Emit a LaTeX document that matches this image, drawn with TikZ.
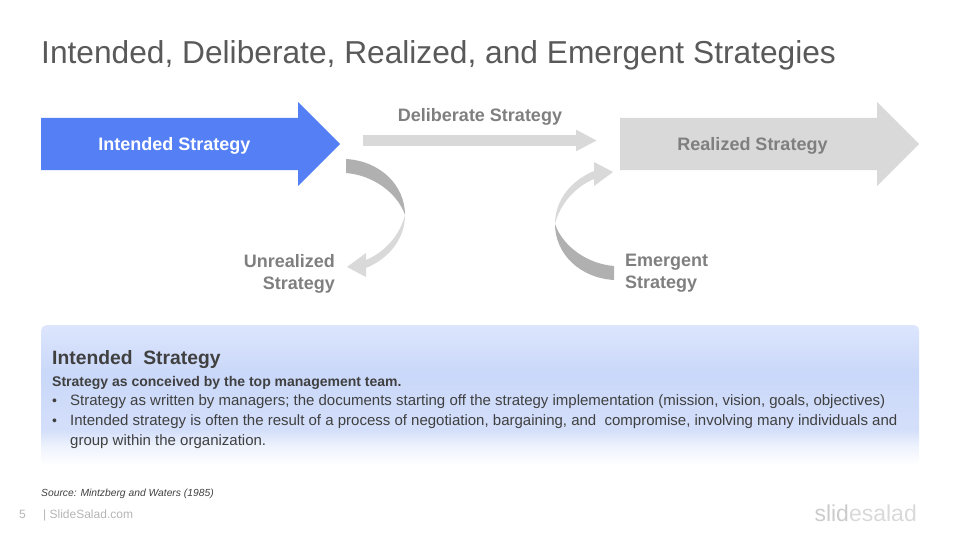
\documentclass[tikz,border=0pt]{standalone}
\usepackage{fontspec}
\setmainfont{Liberation Sans}
\usetikzlibrary{arrows.meta, shapes.arrows}

\definecolor{TitleGray}{HTML}{595959}
\definecolor{LabelGray}{HTML}{7F7F7F}
\definecolor{ArrowLight}{HTML}{D9D9D9}
\definecolor{ArrowDark}{HTML}{B0B0B0}
\definecolor{IntendedBlue}{HTML}{5580F5}
\definecolor{PanelText}{HTML}{404040}
\definecolor{FootGray}{HTML}{B5B5B5}

\pgfdeclareverticalshading{panelfade}{100bp}{
  rgb(0bp)=(1,1,1); rgb(25bp)=(1,1,1); rgb(32bp)=(.93,.95,.99);
  rgb(37.5bp)=(.83,.875,.98); rgb(58bp)=(.79,.845,.975);
  rgb(75bp)=(.865,.90,.99); rgb(100bp)=(.865,.90,.99)}

\tikzset{
  bigarrow/.style={single arrow, draw=none, inner xsep=0pt, inner ysep=26pt, minimum height=299pt,
    single arrow head extend=16pt, anchor=west},
  arrowlabel/.style={font=\fontsize{18}{22}\selectfont\bfseries, inner sep=0pt},
  panelline/.style={font=\fontsize{15}{18}\selectfont, text=PanelText, inner sep=0pt, anchor=base west},
}

\newcommand{\bendarrow}{
  \fill[ArrowDark] (346,159) .. controls (380,161) and (405,185) .. (405,215)
    .. controls (397,192) and (372,175) .. (346,173) -- cycle;
  \fill[ArrowLight] (405,215) .. controls (405,238) and (390,258) .. (366,268)
    -- (366,277) -- (347,267) -- (366,253) -- (366,260)
    .. controls (385,252) and (400,235) .. (405,215) -- cycle;
}

\begin{document}
\begin{tikzpicture}[x=1pt, y=-1pt]
    \useasboundingbox (0,0) rectangle (960,540);

    \node (title) at (41,64)[anchor=base west, inner sep=0pt, text=TitleGray, font=\fontsize{31.7}{38}\selectfont] {Intended, Deliberate, Realized, and Emergent Strategies};

    \node (intended) at (41,144)[bigarrow, fill=IntendedBlue] {};
    \node (realized) at (620,144)[bigarrow, fill=ArrowLight] {};
    \node (intended-label) at (174.5,146)[arrowlabel, text=white] {Intended Strategy};
    \node (realized-label) at (752.5,146)[arrowlabel, text=LabelGray] {Realized Strategy};

    \coordinate (deliberate-start) at (363,140.5);
    \coordinate (deliberate-end) at (597,140.5);
    \draw[-{Triangle[length=21pt, width=20pt]}, line width=11pt, ArrowLight] (deliberate-start) -- (deliberate-end);
    \node (deliberate-label) at (480,117)[arrowlabel, text=LabelGray] {Deliberate Strategy};

    \bendarrow
    \begin{scope}[shift={(960,439)}, scale=-1]
        \bendarrow
    \end{scope}

    \node (unrealized-label) at (335,273.5)[arrowlabel, text=LabelGray, anchor=east, align=right] {Unrealized\\Strategy};
    \node (emergent-label) at (625,273.5)[arrowlabel, text=LabelGray, anchor=west, align=left] {Emergent\\Strategy};

    \node (panel) at (41,325)[anchor=north west, inner sep=0pt, minimum width=878pt, minimum height=140pt, rounded corners=5pt, shading=panelfade] {};

    \node (panel-head) at (52,364)[panelline, font=\fontsize{19.3}{23}\selectfont\bfseries] {Intended\ \ Strategy};
    \node (panel-sub) at (52,386.5)[panelline, font=\fontsize{14}{17}\selectfont\bfseries] {Strategy as conceived by the top management team.};
    \node (bullet-one) at (52,405.5)[panelline, font=\fontsize{14}{17}\selectfont] {•};
    \node (line-one) at (70,405.5)[panelline] {Strategy as written by managers; the documents starting off the strategy implementation (mission, vision, goals, objectives)};
    \node (bullet-two) at (52,425)[panelline, font=\fontsize{14}{17}\selectfont] {•};
    \node (line-two) at (70,425)[panelline] {Intended strategy is often the result of a process of negotiation, bargaining, and\ \ compromise, involving many individuals and};
    \node (line-three) at (70,445)[panelline] {group within the organization.};

    \node (source) at (41,496)[anchor=base west, inner sep=0pt, text=PanelText, font=\fontsize{10.3}{12}\selectfont\itshape] {Source: Mintzberg and Waters (1985)};
    \node (page) at (19,518)[anchor=base west, inner sep=0pt, text=FootGray, font=\fontsize{12}{14}\selectfont] {5};
    \node (site) at (43,518)[anchor=base west, inner sep=0pt, text=FootGray, font=\fontsize{12}{14}\selectfont] {| SlideSalad.com};
    \node (logo) at (917,521)[anchor=base east, inner sep=0pt, text=ArrowLight, font=\fontsize{23}{28}\selectfont] {\textcolor{FootGray!70}{slid}esalad};
\end{tikzpicture}
\end{document}
